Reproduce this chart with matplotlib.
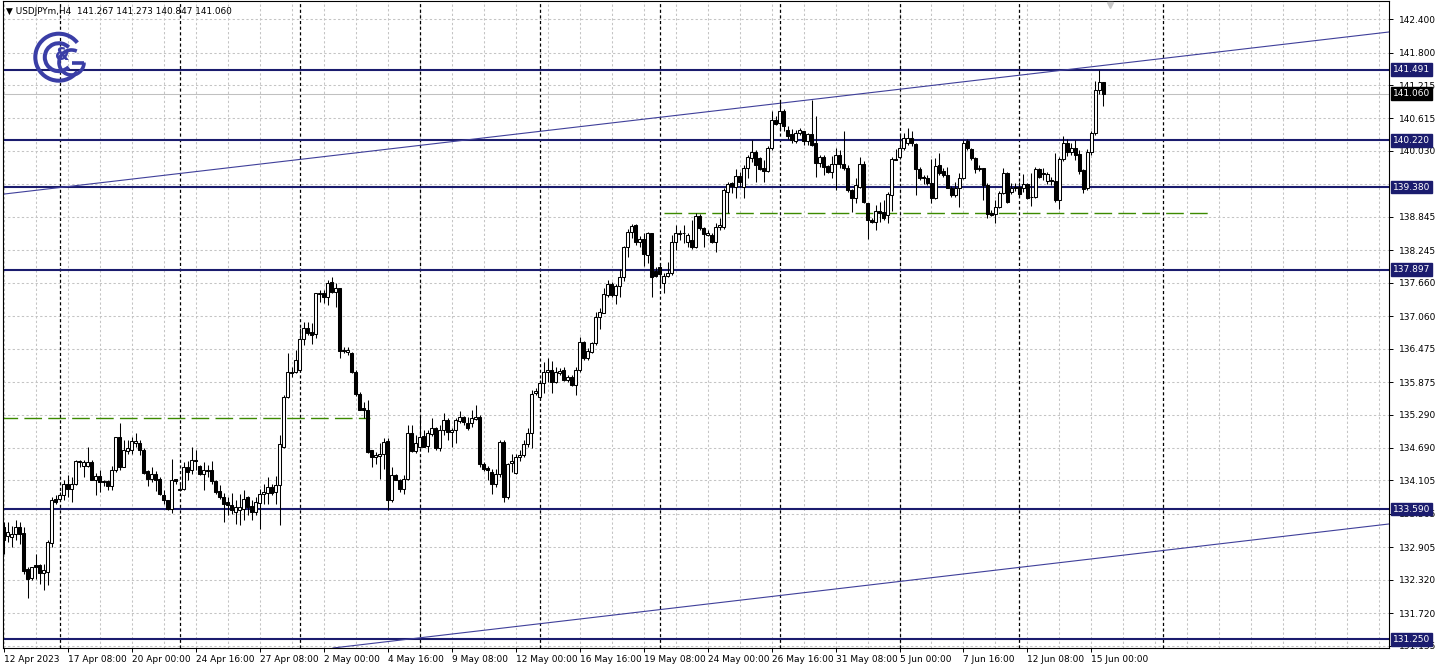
import matplotlib
matplotlib.use('Agg')
import matplotlib.pyplot as plt
from matplotlib.patches import Arc
import numpy as np

# H4 candles, bar 0 = 12 Apr 2023 16:00
opens = [
    133.27, 133.11, 133.09, 133.15, 133.27, 133.16, 132.52, 132.36, 132.59, 132.59, 132.44, 132.46,
    132.98, 133.78, 133.78, 133.84, 134.05, 133.96, 134.05, 134.45, 134.37, 134.37, 134.44, 134.12,
    134.18, 134.09, 134.09, 134.00, 134.30, 134.88, 134.35, 134.63, 134.66, 134.77, 134.78, 134.65,
    134.27, 134.14, 134.22, 134.13, 133.85, 133.75, 133.60, 134.13, 133.93, 133.96, 134.35, 134.29,
    134.48, 134.36, 134.22, 134.29, 134.29, 134.10, 133.92, 133.81, 133.72, 133.67, 133.54, 133.58,
    133.60, 133.81, 133.64, 133.54, 133.70, 133.86, 133.88, 133.98, 133.90, 134.02, 134.71, 135.61,
    136.06, 136.06, 136.09, 136.64, 136.84, 136.78, 136.74, 137.45, 137.48, 137.41, 137.67, 137.50,
    137.56, 136.46, 136.42, 136.40, 136.06, 135.66, 135.40, 135.38, 134.65, 134.52, 134.55, 134.59,
    134.82, 133.75, 134.20, 134.11, 133.96, 134.14, 134.95, 134.64, 134.70, 134.90, 134.72, 134.94,
    135.04, 134.68, 135.01, 135.20, 134.98, 135.02, 135.18, 135.24, 135.14, 135.13, 135.21, 135.24,
    134.40, 134.33, 134.26, 134.04, 134.23, 134.80, 133.81, 134.42, 134.24, 134.52, 134.56, 134.76,
    134.95, 135.67, 135.61, 135.86, 136.06, 136.10, 135.88, 136.03, 136.09, 135.92, 135.97, 135.82,
    136.09, 136.60, 136.30, 136.42, 136.57, 137.04, 137.12, 137.44, 137.64, 137.44, 137.60, 137.76,
    138.30, 138.58, 138.70, 138.40, 138.44, 138.16, 138.55, 137.88, 137.94, 137.66, 137.78, 137.83,
    138.40, 138.54, 138.56, 138.40, 138.42, 138.31, 138.86, 138.64, 138.52, 138.52, 138.40, 138.67,
    138.67, 139.30, 139.45, 139.39, 139.58, 139.39, 139.72, 139.91, 140.02, 139.90, 139.72, 139.67,
    140.08, 140.59, 140.53, 140.75, 140.41, 140.34, 140.20, 140.35, 140.38, 140.20, 140.33, 140.17,
    139.82, 139.93, 139.76, 139.66, 139.79, 139.96, 139.79, 139.72, 139.33, 139.18, 139.39, 139.79,
    139.09, 138.79, 138.76, 138.95, 138.94, 138.88, 139.24, 139.89, 139.92, 140.09, 140.17, 140.26,
    140.15, 139.70, 139.57, 139.55, 139.45, 139.19, 139.77, 139.67, 139.60, 139.37, 139.24, 139.36,
    139.54, 140.20, 140.06, 139.91, 139.70, 139.72, 139.42, 138.92, 138.89, 139.03, 139.27, 139.64,
    139.29, 139.39, 139.38, 139.37, 139.44, 139.20, 139.21, 139.71, 139.64, 139.49, 139.51, 139.49,
    139.15, 139.88, 140.18, 140.02, 140.09, 139.97, 139.68, 139.36, 140.01, 140.35, 141.12, 141.267,
]
highs = [
    133.36, 133.36, 133.28, 133.39, 133.36, 133.27, 132.55, 132.55, 132.78, 132.60, 132.61, 133.03,
    133.81, 133.84, 133.90, 134.11, 134.20, 134.17, 134.47, 134.48, 134.47, 134.70, 134.47, 134.24,
    134.29, 134.11, 134.11, 134.36, 134.89, 135.13, 134.84, 134.83, 134.89, 134.95, 134.83, 134.68,
    134.29, 134.35, 134.28, 134.16, 133.93, 133.76, 134.49, 134.14, 134.08, 134.44, 134.46, 134.71,
    134.65, 134.38, 134.44, 134.38, 134.46, 134.12, 134.02, 133.88, 133.81, 133.88, 133.75, 133.87,
    133.93, 133.82, 133.75, 133.81, 133.96, 134.05, 134.17, 134.05, 134.18, 134.92, 135.64, 136.39,
    136.15, 136.45, 136.84, 136.96, 136.96, 136.93, 137.48, 137.53, 137.53, 137.71, 137.77, 137.65,
    137.56, 136.51, 136.51, 136.42, 136.09, 135.70, 135.52, 135.55, 134.65, 134.62, 134.77, 134.86,
    134.86, 134.35, 134.23, 134.14, 134.20, 135.10, 135.10, 134.92, 135.26, 135.01, 135.01, 135.22,
    135.06, 135.10, 135.31, 135.22, 135.04, 135.22, 135.36, 135.26, 135.25, 135.37, 135.46, 135.28,
    134.44, 134.36, 134.32, 134.32, 134.84, 134.83, 134.42, 134.59, 134.59, 134.65, 134.83, 135.04,
    135.73, 135.76, 135.91, 136.24, 136.30, 136.26, 136.15, 136.12, 136.15, 136.00, 136.00, 136.15,
    136.69, 136.62, 136.48, 136.60, 137.14, 137.20, 137.56, 137.71, 137.68, 137.64, 137.90, 138.32,
    138.62, 138.72, 138.72, 138.50, 138.55, 138.58, 138.56, 137.95, 138.01, 137.83, 138.04, 138.52,
    138.70, 138.61, 138.70, 138.56, 138.79, 138.92, 138.90, 138.67, 138.61, 138.55, 138.74, 138.82,
    139.36, 139.48, 139.48, 139.70, 139.66, 139.78, 139.96, 140.23, 140.05, 139.93, 139.87, 140.11,
    140.74, 140.65, 140.95, 140.78, 140.47, 140.42, 140.41, 140.45, 140.39, 140.36, 140.95, 140.65,
    139.96, 139.96, 139.78, 139.94, 140.08, 140.05, 140.38, 139.78, 139.34, 139.54, 139.93, 139.85,
    139.10, 138.82, 139.06, 139.12, 139.15, 139.30, 139.93, 140.07, 140.32, 140.35, 140.44, 140.38,
    140.17, 139.75, 139.60, 139.60, 139.88, 139.90, 139.99, 139.72, 139.75, 139.40, 139.47, 139.64,
    140.22, 140.24, 140.09, 139.92, 139.77, 139.73, 139.45, 138.97, 139.15, 139.31, 139.73, 139.65,
    139.46, 139.46, 139.47, 139.62, 139.46, 139.63, 139.74, 139.73, 139.73, 139.65, 139.57, 139.99,
    139.93, 140.29, 140.24, 140.17, 140.22, 140.05, 139.71, 140.06, 140.39, 141.29, 141.49, 141.273,
]
lows = [
    132.78, 133.00, 132.91, 133.03, 132.97, 132.43, 132.00, 132.31, 132.34, 132.25, 132.13, 132.22,
    132.91, 133.69, 133.75, 133.75, 133.81, 133.72, 134.02, 134.35, 134.17, 134.35, 134.11, 133.84,
    133.90, 134.00, 133.94, 133.93, 134.26, 134.29, 134.34, 134.59, 134.58, 134.71, 134.56, 134.22,
    134.00, 134.08, 133.92, 133.84, 133.69, 133.57, 133.52, 134.05, 133.92, 133.93, 134.11, 134.23,
    134.29, 134.20, 133.93, 134.17, 134.05, 133.87, 133.78, 133.36, 133.48, 133.51, 133.33, 133.30,
    133.39, 133.48, 133.39, 133.48, 133.24, 133.69, 133.69, 133.84, 133.69, 133.30, 134.68, 135.58,
    135.97, 136.03, 136.06, 136.54, 136.72, 136.56, 136.66, 137.32, 137.29, 137.26, 137.47, 137.23,
    136.30, 136.39, 136.36, 136.03, 135.62, 135.37, 135.22, 134.60, 134.35, 134.40, 134.14, 134.32,
    133.57, 133.72, 134.11, 133.90, 133.86, 134.11, 134.62, 134.60, 134.68, 134.70, 134.62, 134.90,
    134.65, 134.64, 134.92, 134.84, 134.70, 134.77, 135.13, 135.10, 135.02, 135.06, 135.19, 134.35,
    134.28, 134.12, 133.87, 133.99, 134.17, 133.72, 133.78, 134.26, 134.23, 134.46, 134.53, 134.71,
    134.68, 135.64, 135.58, 135.67, 135.88, 135.67, 135.85, 136.00, 135.90, 135.88, 135.80, 135.64,
    136.06, 136.28, 136.28, 136.40, 136.54, 136.82, 137.11, 137.41, 137.41, 137.28, 137.40, 137.70,
    138.13, 138.46, 138.34, 138.30, 137.96, 138.01, 137.40, 137.76, 137.56, 137.48, 137.77, 137.80,
    138.25, 138.43, 138.37, 138.30, 138.26, 138.28, 138.60, 138.31, 138.50, 138.37, 138.22, 138.60,
    138.62, 138.91, 139.27, 139.18, 139.39, 139.18, 139.54, 139.84, 139.48, 139.68, 139.48, 139.66,
    140.05, 140.50, 140.38, 140.38, 140.24, 140.18, 140.18, 140.32, 140.14, 140.14, 140.11, 139.57,
    139.75, 139.60, 139.64, 139.54, 139.33, 139.73, 139.69, 139.30, 138.94, 139.09, 139.36, 139.09,
    138.44, 138.73, 138.61, 138.76, 138.79, 138.73, 138.95, 139.86, 139.89, 140.05, 140.14, 140.12,
    139.23, 139.51, 139.43, 139.42, 139.09, 139.17, 139.60, 139.57, 139.36, 139.20, 139.20, 139.02,
    139.52, 140.05, 139.87, 139.63, 139.67, 139.15, 138.82, 138.86, 138.74, 139.00, 139.25, 139.10,
    139.26, 139.31, 139.22, 139.30, 139.17, 139.04, 139.18, 139.55, 139.51, 139.44, 139.42, 139.12,
    138.99, 139.85, 139.94, 139.95, 139.87, 139.62, 139.27, 139.33, 139.96, 140.32, 141.05, 140.847,
]
closes = [
    133.03, 133.17, 133.15, 133.27, 133.15, 132.48, 132.34, 132.55, 132.55, 132.44, 132.49, 133.00,
    133.76, 133.72, 133.84, 134.05, 133.96, 134.05, 134.45, 134.43, 134.43, 134.44, 134.12, 134.18,
    134.07, 134.07, 134.00, 134.30, 134.88, 134.35, 134.66, 134.68, 134.82, 134.82, 134.65, 134.24,
    134.14, 134.22, 134.11, 133.87, 133.75, 133.60, 134.12, 134.10, 133.96, 134.35, 134.26, 134.48,
    134.45, 134.22, 134.29, 134.28, 134.10, 133.90, 133.81, 133.69, 133.66, 133.57, 133.62, 133.62,
    133.78, 133.63, 133.54, 133.72, 133.86, 133.90, 133.98, 133.88, 134.02, 134.76, 135.61, 136.06,
    136.04, 136.27, 136.64, 136.84, 136.75, 136.72, 137.47, 137.48, 137.41, 137.66, 137.50, 137.56,
    136.44, 136.43, 136.45, 136.06, 135.66, 135.38, 135.37, 134.62, 134.52, 134.56, 134.59, 134.80,
    133.75, 134.20, 134.12, 133.96, 134.14, 134.95, 134.64, 134.77, 134.88, 134.71, 134.95, 135.04,
    134.68, 135.02, 135.19, 134.98, 135.02, 135.19, 135.24, 135.16, 135.04, 135.22, 135.24, 134.40,
    134.32, 134.30, 134.04, 134.23, 134.80, 133.81, 134.40, 134.45, 134.53, 134.56, 134.76, 134.96,
    135.66, 135.72, 135.86, 136.06, 136.10, 135.88, 136.06, 136.08, 135.92, 135.97, 135.82, 136.09,
    136.60, 136.30, 136.44, 136.57, 137.05, 137.14, 137.46, 137.64, 137.44, 137.60, 137.76, 138.30,
    138.58, 138.68, 138.40, 138.44, 138.18, 138.55, 137.77, 137.78, 137.82, 137.78, 137.83, 138.40,
    138.55, 138.56, 138.55, 138.52, 138.31, 138.86, 138.64, 138.54, 138.56, 138.40, 138.67, 138.70,
    139.33, 139.43, 139.40, 139.58, 139.48, 139.73, 139.93, 140.02, 139.78, 139.70, 139.67, 140.08,
    140.59, 140.51, 140.75, 140.47, 140.30, 140.23, 140.35, 140.41, 140.20, 140.33, 140.14, 139.82,
    139.93, 139.75, 139.66, 139.79, 139.96, 139.79, 139.72, 139.33, 139.18, 139.42, 139.79, 139.12,
    138.79, 138.76, 138.95, 138.91, 138.82, 139.25, 139.88, 139.87, 140.09, 140.26, 140.26, 140.17,
    139.70, 139.54, 139.54, 139.45, 139.19, 139.76, 139.64, 139.60, 139.37, 139.24, 139.36, 139.54,
    140.18, 140.08, 139.91, 139.70, 139.73, 139.42, 138.89, 138.87, 139.03, 139.28, 139.64, 139.12,
    139.36, 139.36, 139.25, 139.44, 139.19, 139.21, 139.71, 139.56, 139.61, 139.62, 139.49, 139.15,
    139.88, 140.18, 140.02, 140.09, 139.96, 139.67, 139.34, 140.02, 140.35, 141.12, 141.27, 141.060,
]

x_label_bars = [0, 16, 32, 48, 64, 80, 96, 112, 128, 144, 160, 176, 192, 208, 224, 240, 256, 272]
x_labels = ['12 Apr 2023', '17 Apr 08:00', '20 Apr 00:00', '24 Apr 16:00', '27 Apr 08:00',
            '2 May 00:00', '4 May 16:00', '9 May 08:00', '12 May 00:00', '16 May 16:00',
            '19 May 08:00', '24 May 00:00', '26 May 16:00', '31 May 08:00', '5 Jun 00:00',
            '7 Jun 16:00', '12 Jun 08:00', '15 Jun 00:00']
week_bars = [14, 44, 74, 104, 134, 164, 194, 224, 254, 290]
price_ticks = [142.400, 141.800, 141.215, 140.615, 140.030, 138.845, 138.245, 137.660,
               137.060, 136.475, 135.875, 135.290, 134.690, 134.105, 133.505, 132.905,
               132.320, 131.720, 131.135]
hidden_grid = [139.440]
levels = [141.491, 140.220, 139.380, 137.897, 133.590, 131.250]
last_price = 141.060
green_lines = [(-1.0, 91.7, 135.22), (165.0, 301.7, 138.92)]
channel_up = [(0.2, 139.256), (346.4, 142.169)]
channel_dn = [(99.4, 131.237), (346.4, 133.323)]

NAVY = '#1b1c6e'
TREND = '#3f3f9a'
GREEN = '#3c8a00'
GRID = '#c4c4c4'

fig = plt.figure(figsize=(14.38, 6.71), dpi=100)
ax = fig.add_axes([2.5 / 1438, 23 / 671, 1386.5 / 1438, 647 / 671])
ax.set_xlim(-0.3, 346.4)
ax.set_ylim(131.093, 142.726)

# grid
for b in range(0, 350, 8):
    ax.axvline(b, color=GRID, lw=0.75, dashes=(2.2, 2.2), zorder=0)
for p in price_ticks + hidden_grid:
    ax.axhline(p, color=GRID, lw=0.75, dashes=(2.2, 2.2), zorder=0)
for b in week_bars:
    ax.axvline(b, color='black', lw=0.9, dashes=(2.5, 2.0), zorder=1)

# levels and channel
for lv in levels:
    ax.axhline(lv, color=NAVY, lw=1.5, zorder=2)
ax.axhline(last_price, color='#c0c0c0', lw=0.75, zorder=1)
ax.axline(channel_up[0], channel_up[1], color=TREND, lw=0.8, zorder=2)
ax.axline(channel_dn[0], channel_dn[1], color=TREND, lw=0.8, zorder=2)
for x0, x1, p in green_lines:
    ax.plot([x0, x1], [p, p], color=GREEN, lw=1.0, dashes=(12.7, 4.5), zorder=2)

# candles
o = np.array(opens)
c = np.array(closes)
idx = np.arange(len(o))
ax.vlines(idx, lows, highs, color='black', lw=0.75, zorder=3)
bottom = np.minimum(o, c)
height = np.maximum(np.abs(c - o), 0.01)
face = np.where(c >= o, 'white', 'black')
ax.bar(idx, height, bottom=bottom, width=0.6, color=face, edgecolor='black',
       linewidth=0.75, zorder=4)

# axes styling
for s in ax.spines.values():
    s.set_color('black')
    s.set_linewidth(0.8)
ax.yaxis.tick_right()
ax.set_yticks(price_ticks)
ax.set_yticklabels([f'{p:.3f}' for p in price_ticks])
ax.set_xticks(x_label_bars)
ax.set_xticklabels(x_labels, ha='left')
ax.tick_params(axis='both', direction='out', length=3, width=0.7, labelsize=6.5, pad=2)
ax.tick_params(axis='y', pad=4)

# price boxes
ytr = ax.get_yaxis_transform()
for lv in levels:
    ax.text(1.0028, lv, f'{lv:.3f}', transform=ytr, fontsize=6.5, color='white',
            va='center', ha='left', zorder=10, clip_on=False,
            bbox=dict(boxstyle='square,pad=0.2', fc=NAVY, ec=NAVY))
ax.text(1.0028, last_price, f'{last_price:.3f}', transform=ytr, fontsize=6.5, color='white',
        va='center', ha='left', zorder=10, clip_on=False,
        bbox=dict(boxstyle='square,pad=0.2', fc='black', ec='black'))

# overlay in pixel units for header and logo
ov = fig.add_axes([0, 0, 1, 1], facecolor='none')
ov.set_xlim(0, 1438)
ov.set_ylim(671, 0)
ov.axis('off')
ov.text(6, 12, '\u25bc USDJPYm,H4  141.267 141.273 140.847 141.060', fontsize=6.4,
        va='center', ha='left')
ov.plot([1110], [5], marker='v', color='#c8c8c8', ms=5)

LOGO = '#3a3ea6'
ov.add_patch(Arc((58.8, 57.2), 47, 47, theta1=38, theta2=322, lw=2.9, color=LOGO))
ov.add_patch(Arc((58.8, 57.2), 28, 28, theta1=45, theta2=315, lw=2.9, color=LOGO))
ov.add_patch(Arc((71.5, 62.5), 25, 25, theta1=0, theta2=295, lw=2.6, color=LOGO))
ov.plot([71.5, 84], [62.5, 62.5], color=LOGO, lw=2.6, solid_capstyle='butt')
ov.text(62, 55, '&', fontsize=12, fontweight='bold', color=LOGO, ha='center', va='center')

fig.savefig('out.png', dpi=100)
